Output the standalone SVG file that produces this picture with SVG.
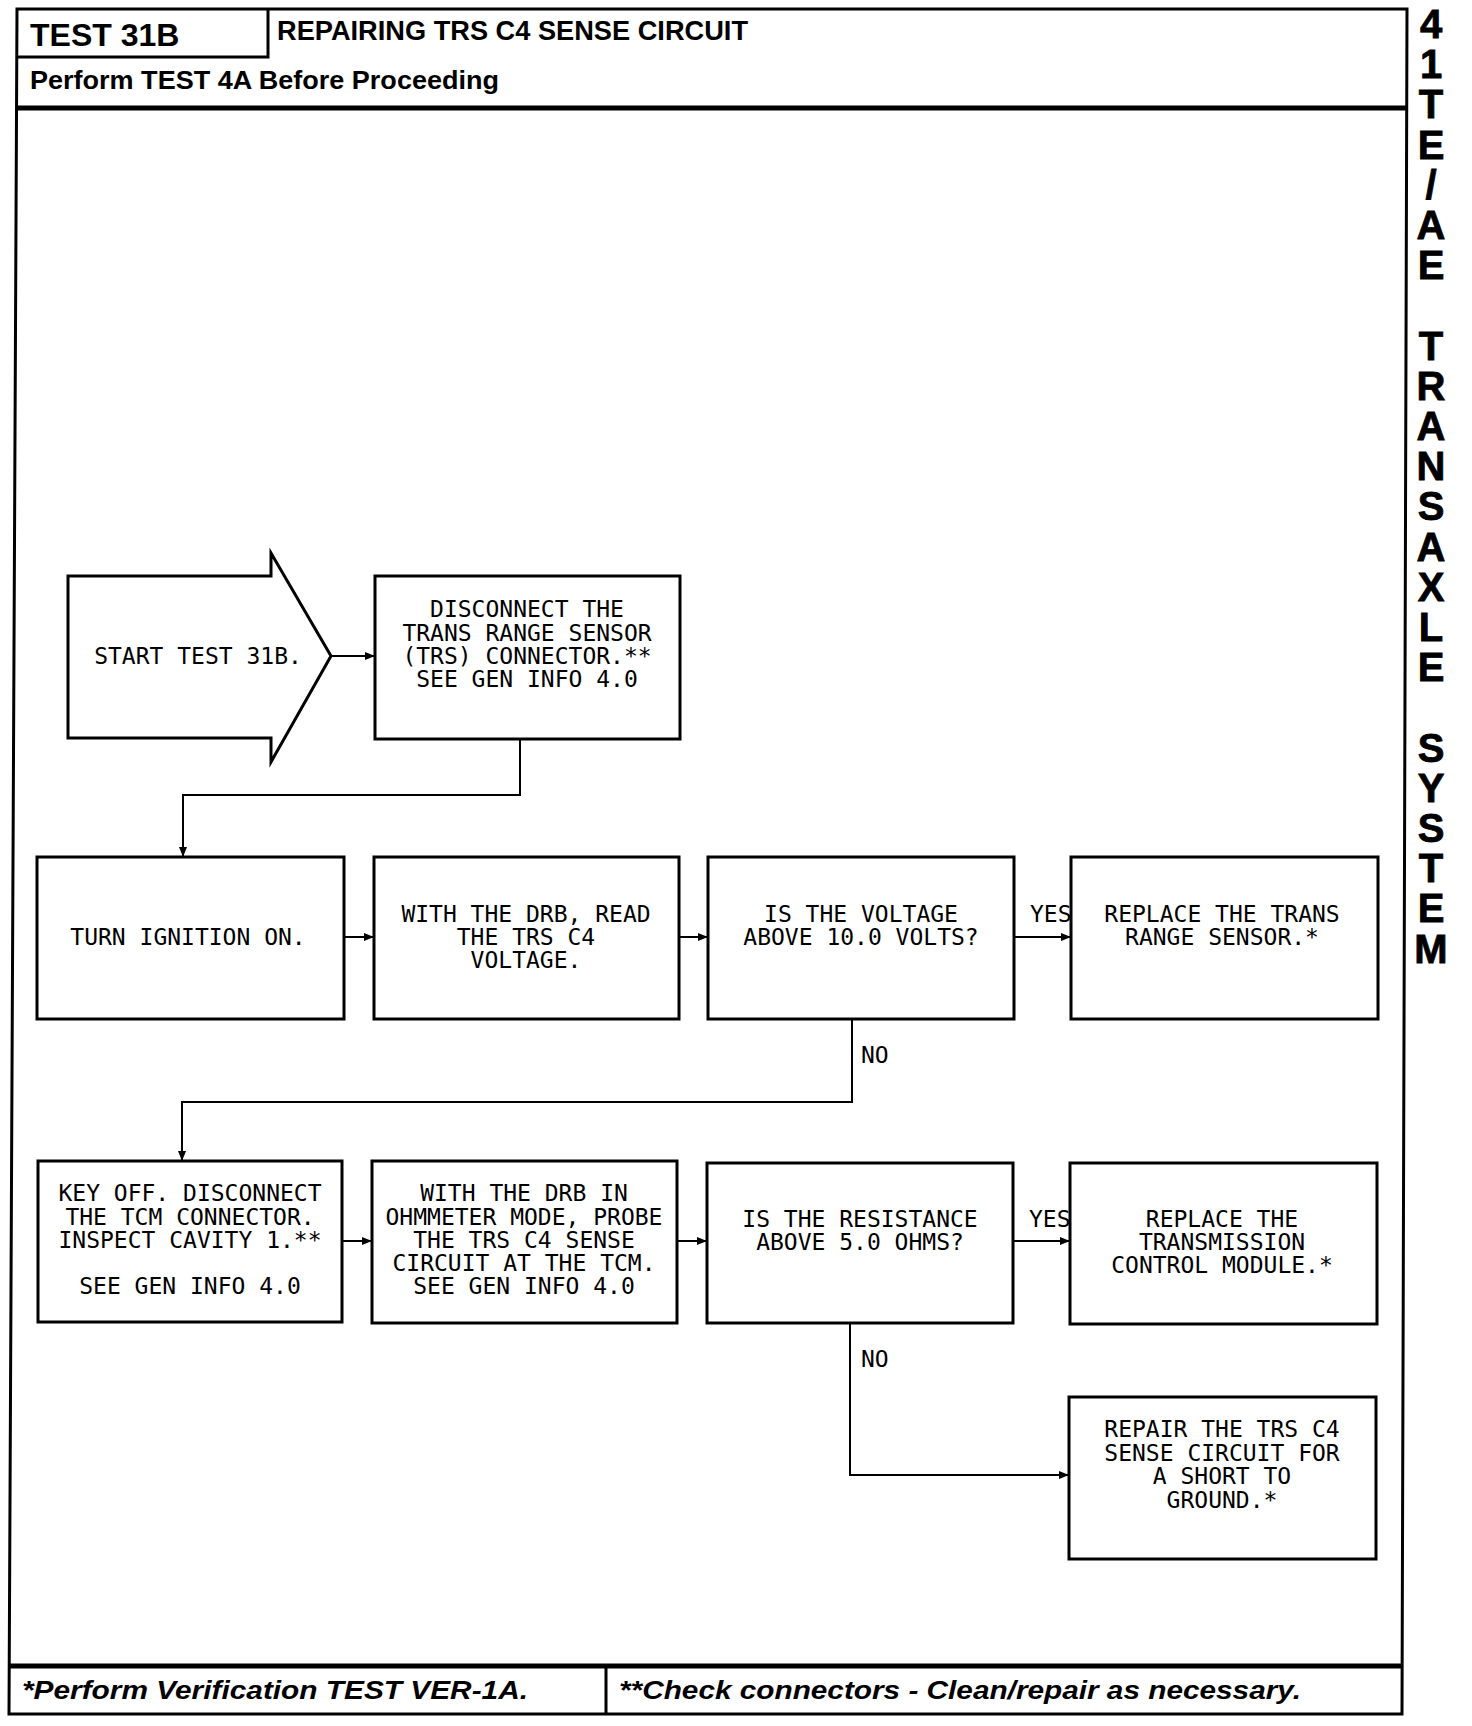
<svg xmlns="http://www.w3.org/2000/svg" width="1472" height="1726" viewBox="0 0 1472 1726">
<style>
.frame{fill:none;stroke:#000;stroke-width:3}
.thick{fill:none;stroke:#000;stroke-width:5}
.box{fill:#fff;stroke:#000;stroke-width:3}
.conn{fill:none;stroke:#000;stroke-width:2}
.t{font-family:"DejaVu Sans Mono","Liberation Mono",monospace;font-size:23px;fill:#000;text-anchor:middle}
.lbl{font-family:"DejaVu Sans Mono","Liberation Mono",monospace;font-size:23px;fill:#000}
.hdr{font-family:"Liberation Sans",Arial,sans-serif;font-weight:bold;fill:#000}
.side{font-family:"Liberation Sans",Arial,sans-serif;font-weight:bold;font-size:40px;fill:#000;text-anchor:middle;stroke:#000;stroke-width:0.8}
.foot{font-family:"Liberation Sans",Arial,sans-serif;font-weight:bold;font-style:italic;font-size:26px;fill:#000}
</style>
<defs>
<marker id="arr" markerWidth="10" markerHeight="8" refX="9" refY="4" orient="auto" markerUnits="userSpaceOnUse">
<path d="M0,0 L10,4 L0,8 Z" fill="#000"/>
</marker>
</defs>
<rect width="1472" height="1726" fill="#fff"/>

<g id="frame">
<path class="frame" d="M17,9 L1407,9 L1402,1714 L9,1714 Z"/>
<path class="frame" d="M17,57 H268 V9"/>
<path class="thick" d="M16,108 H1406"/>
<path class="thick" d="M9,1666 H1403"/>
<path class="frame" d="M606,1666 V1714"/>
</g>

<g id="header">
<text class="hdr" x="30" y="46" font-size="32">TEST 31B</text>
<text class="hdr" x="277" y="40" font-size="27" textLength="471" lengthAdjust="spacingAndGlyphs">REPAIRING TRS C4 SENSE CIRCUIT</text>
<text class="hdr" x="30" y="89" font-size="26" textLength="469" lengthAdjust="spacingAndGlyphs">Perform TEST 4A Before Proceeding</text>
</g>

<g id="sidebar">
<text class="side"><tspan x="1431" y="38">4</tspan><tspan x="1431" y="78">1</tspan><tspan x="1431" y="118">T</tspan><tspan x="1431" y="159">E</tspan><tspan x="1431" y="199">/</tspan><tspan x="1431" y="239">A</tspan><tspan x="1431" y="279">E</tspan><tspan x="1431" y="360">T</tspan><tspan x="1431" y="400">R</tspan><tspan x="1431" y="440">A</tspan><tspan x="1431" y="480">N</tspan><tspan x="1431" y="520">S</tspan><tspan x="1431" y="561">A</tspan><tspan x="1431" y="601">X</tspan><tspan x="1431" y="641">L</tspan><tspan x="1431" y="681">E</tspan><tspan x="1431" y="762">S</tspan><tspan x="1431" y="802">Y</tspan><tspan x="1431" y="842">S</tspan><tspan x="1431" y="882">T</tspan><tspan x="1431" y="922">E</tspan><tspan x="1431" y="963">M</tspan></text>
</g>

<g id="connectors">
<path class="conn" d="M331,656 H374" marker-end="url(#arr)"/>
<path class="conn" d="M520,739 V795 H183 V856" marker-end="url(#arr)"/>
<path class="conn" d="M344,937 H373" marker-end="url(#arr)"/>
<path class="conn" d="M679,937 H707" marker-end="url(#arr)"/>
<path class="conn" d="M1014,937 H1070" marker-end="url(#arr)"/>
<path class="conn" d="M852,1019 V1102 H182 V1160" marker-end="url(#arr)"/>
<path class="conn" d="M342,1241 H371" marker-end="url(#arr)"/>
<path class="conn" d="M677,1241 H706" marker-end="url(#arr)"/>
<path class="conn" d="M1013,1241 H1069" marker-end="url(#arr)"/>
<path class="conn" d="M850,1323 V1475 H1068" marker-end="url(#arr)"/>
<text class="lbl" x="1030" y="922">YES</text>
<text class="lbl" x="861" y="1063">NO</text>
<text class="lbl" x="1029" y="1227">YES</text>
<text class="lbl" x="861" y="1367">NO</text>
</g>

<g id="start">
<polygon class="box" points="68,576 271,576 271,553 331,656 271,762 271,738 68,738"/>
<text class="t" x="198" y="664">START TEST 31B.</text>
</g>

<g id="disconnect-trs">
<rect class="box" x="375" y="576" width="305" height="163"/>
<text class="t" x="527" y="617">DISCONNECT THE</text>
<text class="t" x="527" y="641">TRANS RANGE SENSOR</text>
<text class="t" x="527" y="664">(TRS) CONNECTOR.**</text>
<text class="t" x="527" y="687">SEE GEN INFO 4.0</text>
</g>

<g id="ignition-on">
<rect class="box" x="37" y="857" width="307" height="162"/>
<text class="t" x="188" y="945">TURN IGNITION ON.</text>
</g>

<g id="read-voltage">
<rect class="box" x="374" y="857" width="305" height="162"/>
<text class="t" x="526" y="922">WITH THE DRB, READ</text>
<text class="t" x="526" y="945">THE TRS C4</text>
<text class="t" x="526" y="968">VOLTAGE.</text>
</g>

<g id="voltage-check">
<rect class="box" x="708" y="857" width="306" height="162"/>
<text class="t" x="861" y="922">IS THE VOLTAGE</text>
<text class="t" x="861" y="945">ABOVE 10.0 VOLTS?</text>
</g>

<g id="replace-trs">
<rect class="box" x="1071" y="857" width="307" height="162"/>
<text class="t" x="1222" y="922">REPLACE THE TRANS</text>
<text class="t" x="1222" y="945">RANGE SENSOR.*</text>
</g>

<g id="disconnect-tcm">
<rect class="box" x="38" y="1161" width="304" height="161"/>
<text class="t" x="190" y="1201">KEY OFF. DISCONNECT</text>
<text class="t" x="190" y="1225">THE TCM CONNECTOR.</text>
<text class="t" x="190" y="1248">INSPECT CAVITY 1.**</text>
<text class="t" x="190" y="1294">SEE GEN INFO 4.0</text>
</g>

<g id="probe-circuit">
<rect class="box" x="372" y="1161" width="305" height="162"/>
<text class="t" x="524" y="1201">WITH THE DRB IN</text>
<text class="t" x="524" y="1225">OHMMETER MODE, PROBE</text>
<text class="t" x="524" y="1248">THE TRS C4 SENSE</text>
<text class="t" x="524" y="1271">CIRCUIT AT THE TCM.</text>
<text class="t" x="524" y="1294">SEE GEN INFO 4.0</text>
</g>

<g id="resistance-check">
<rect class="box" x="707" y="1163" width="306" height="160"/>
<text class="t" x="860" y="1227">IS THE RESISTANCE</text>
<text class="t" x="860" y="1250">ABOVE 5.0 OHMS?</text>
</g>

<g id="replace-tcm">
<rect class="box" x="1070" y="1163" width="307" height="161"/>
<text class="t" x="1222" y="1227">REPLACE THE</text>
<text class="t" x="1222" y="1250">TRANSMISSION</text>
<text class="t" x="1222" y="1273">CONTROL MODULE.*</text>
</g>

<g id="repair-circuit">
<rect class="box" x="1069" y="1397" width="307" height="162"/>
<text class="t" x="1222" y="1437">REPAIR THE TRS C4</text>
<text class="t" x="1222" y="1461">SENSE CIRCUIT FOR</text>
<text class="t" x="1222" y="1484">A SHORT TO</text>
<text class="t" x="1222" y="1508">GROUND.*</text>
</g>

<g id="footer">
<text class="foot" x="22" y="1699" textLength="506" lengthAdjust="spacingAndGlyphs">*Perform Verification TEST VER-1A.</text>
<text class="foot" x="619" y="1699" textLength="682" lengthAdjust="spacingAndGlyphs">**Check connectors - Clean/repair as necessary.</text>
</g>
</svg>
